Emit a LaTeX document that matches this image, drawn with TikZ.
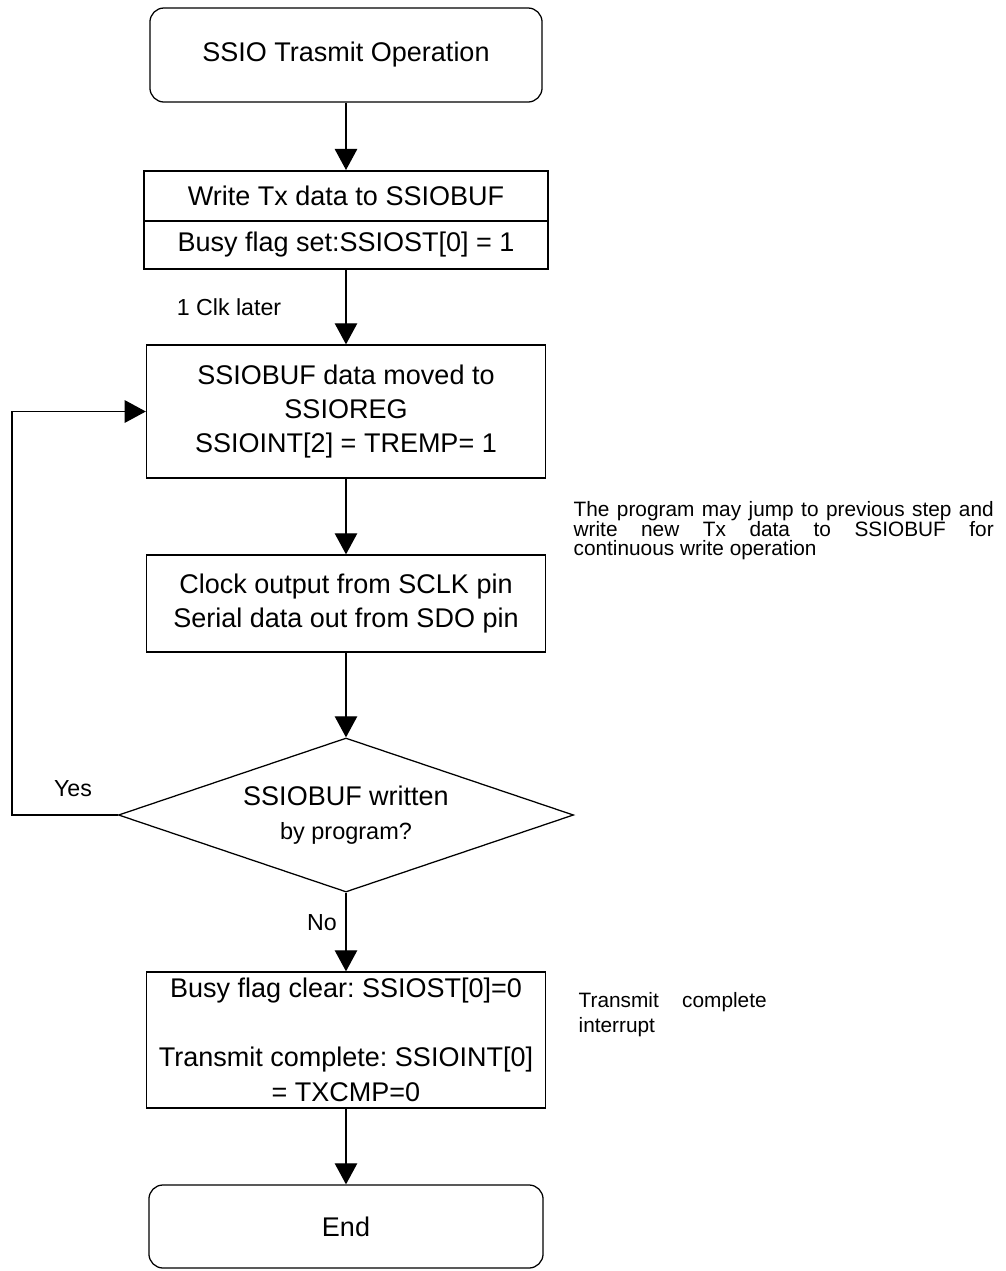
\documentclass[tikz,border=0pt]{standalone}
\usepackage{fontspec}
\setmainfont{Liberation Sans}
\usetikzlibrary{arrows.meta,shapes.geometric}
\frenchspacing

\begin{document}
\begin{tikzpicture}[x=0.025cm,y=-0.025cm,>={Triangle[length=15pt,width=16pt]},line width=0.9pt,
  box/.style={draw,align=center,inner sep=0pt,font=\fontsize{19.2}{24.5}\selectfont},
  term/.style={box,rounded corners=10pt},
  lbl/.style={inner sep=0pt,font=\fontsize{16.5}{20}\selectfont},
  note/.style={anchor=north west,inner sep=0pt,align=justify}]
  \useasboundingbox (0,0) rectangle (1006,1271);
  \node[term,minimum width=9.8cm,minimum height=2.35cm] (start) at (346,55) {SSIO Trasmit Operation};
  \node[box,line width=1.4pt,minimum width=10.1cm,minimum height=1.25cm] (write) at (346,196) {Write Tx data to SSIOBUF};
  \node[box,minimum width=10.1cm,minimum height=1.2cm] (busyset) at (346,245) {Busy flag set:SSIOST[0] = 1};
  \node[box,minimum width=9.975cm,minimum height=3.325cm] (ssioreg) at (346,411.5) {SSIOBUF data moved to\\SSIOREG\\SSIOINT[2] = TREMP= 1};
  \node[box,minimum width=9.975cm,minimum height=2.425cm] (clock) at (346,603.5) {Clock output from SCLK pin\\Serial data out from SDO pin};
  \node[box,diamond,aspect=2.95,minimum width=11.375cm,minimum height=3.85cm] (dec) at (346,815) {SSIOBUF written\\{\fontsize{16.7}{20}\selectfont by program?}};
  \node[box,minimum width=9.975cm,minimum height=3.4cm] (busyclr) at (346,1040) {Busy flag clear: SSIOST[0]=0\\[24.5pt]Transmit complete: SSIOINT[0]\\= TXCMP=0};
  \node[term,minimum width=9.85cm,minimum height=2.075cm] (stop) at (346,1226.5) {End};
  \node[lbl] (clk) at (229,307) {1 Clk later};
  \node[lbl] (yes) at (73,789) {Yes};
  \node[lbl] (no) at (322,923) {No};
  \node[note,text width=10.5cm,font=\fontsize{14.8}{13.8}\selectfont] (jump) at (573,501) {The program may jump to previous step and\linebreak write new Tx data to SSIOBUF for\linebreak continuous write operation};
  \node[note,text width=4.7cm,font=\fontsize{14.8}{17.8}\selectfont] (txcmp) at (578,992) {Transmit complete\linebreak interrupt};
  \coordinate (turn) at (12,815);
  \draw[->] (start) -- (write);
  \draw[->] (busyset) -- (ssioreg);
  \draw[->] (ssioreg) -- (clock);
  \draw[->] (clock) -- (dec);
  \draw[->] (dec) -- (busyclr);
  \draw[->] (busyclr) -- (stop);
  \draw[->] (dec.west) -- (turn) |- (ssioreg.west);
\end{tikzpicture}
\end{document}
